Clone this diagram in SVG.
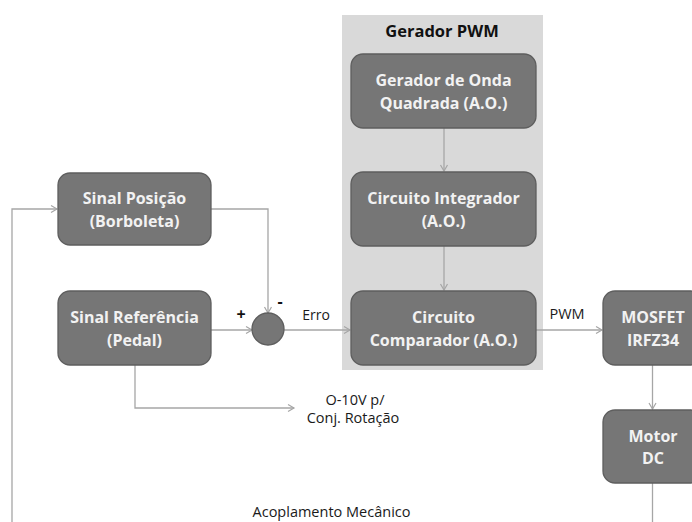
<svg xmlns="http://www.w3.org/2000/svg" width="692" height="522" viewBox="0 0 692 522">
<defs>
<style>
.box{fill:#767676;stroke:#5e5e5e;stroke-width:1.3}
.bt{font-family:"Open Sans","Liberation Sans",sans-serif;font-weight:bold;font-size:16px;fill:#f2f2f2;text-anchor:middle}
.lbl{font-family:"Open Sans","Liberation Sans",sans-serif;font-size:14.5px;fill:#1a1a1a;text-anchor:middle}
.sign{font-family:"Open Sans","Liberation Sans",sans-serif;font-weight:bold;font-size:16px;fill:#111;text-anchor:middle}
.con{fill:none;stroke:#a6a6a6;stroke-width:1.3}
</style>
<marker id="arr" markerUnits="userSpaceOnUse" markerWidth="10" markerHeight="10" refX="8" refY="5" orient="auto">
<path d="M2,1.5 L8,5 L2,8.5" fill="none" stroke="#a6a6a6" stroke-width="1.2"/>
</marker>
</defs>
<rect width="692" height="522" fill="#ffffff"/>
<g id="gerador-pwm">
<rect x="342" y="15" width="201" height="355" fill="#d9d9d9"/>
<text x="442" y="37" class="sign" style="font-size:16.5px">Gerador PWM</text>
</g>
<g id="connectors">
<path class="con" d="M12,530 V209 H57" marker-end="url(#arr)"/>
<path class="con" d="M211,209 H268 V313" marker-end="url(#arr)"/>
<path class="con" d="M211,330 H252" marker-end="url(#arr)"/>
<path class="con" d="M284,330 H350" marker-end="url(#arr)"/>
<path class="con" d="M444,128 V171" marker-end="url(#arr)"/>
<path class="con" d="M444,246 V290" marker-end="url(#arr)"/>
<path class="con" d="M536,330 H602" marker-end="url(#arr)"/>
<path class="con" d="M652.5,365 V409" marker-end="url(#arr)"/>
<path class="con" d="M652.5,483 V530"/>
<path class="con" d="M135,365 V408 H294" marker-end="url(#arr)"/>
</g>
<g id="sinal-posicao">
<rect class="box" x="58" y="173" width="153" height="72" rx="12"/>
<text class="bt" x="134.5" y="204">Sinal Posição</text>
<text class="bt" x="134.5" y="226.5">(Borboleta)</text>
</g>
<g id="sinal-referencia">
<rect class="box" x="58" y="291" width="153" height="74" rx="12"/>
<text class="bt" x="134.5" y="323">Sinal Referência</text>
<text class="bt" x="134.5" y="345.5">(Pedal)</text>
</g>
<g id="somador">
<circle cx="268" cy="329" r="16" fill="#767676" stroke="#5e5e5e" stroke-width="1.3"/>
<text class="sign" x="241" y="320">+</text>
<text class="sign" x="280" y="307">-</text>
</g>
<g id="gerador-onda">
<rect class="box" x="351" y="54" width="185" height="74" rx="12"/>
<text class="bt" x="443.5" y="86">Gerador de Onda</text>
<text class="bt" x="443.5" y="108.5">Quadrada (A.O.)</text>
</g>
<g id="integrador">
<rect class="box" x="351" y="172" width="185" height="74" rx="12"/>
<text class="bt" x="443.5" y="204">Circuito Integrador</text>
<text class="bt" x="443.5" y="226.5">(A.O.)</text>
</g>
<g id="comparador">
<rect class="box" x="351" y="291" width="185" height="74" rx="12"/>
<text class="bt" x="443.5" y="323">Circuito</text>
<text class="bt" x="443.5" y="345.5">Comparador (A.O.)</text>
</g>
<g id="mosfet">
<rect class="box" x="603" y="291" width="100" height="74" rx="12"/>
<text class="bt" x="653" y="323">MOSFET</text>
<text class="bt" x="653" y="345.5">IRFZ34</text>
</g>
<g id="motor">
<rect class="box" x="603" y="410" width="100" height="73" rx="12"/>
<text class="bt" x="653" y="441.5">Motor</text>
<text class="bt" x="653" y="464">DC</text>
</g>
<g id="labels">
<text class="lbl" x="316" y="320" style="font-size:14px">Erro</text>
<text class="lbl" x="567" y="319">PWM</text>
<text class="lbl" x="355" y="405">O-10V p/</text>
<text class="lbl" x="353" y="423">Conj. Rotação</text>
<text class="lbl" x="331.5" y="517">Acoplamento Mecânico</text>
</g>
</svg>
